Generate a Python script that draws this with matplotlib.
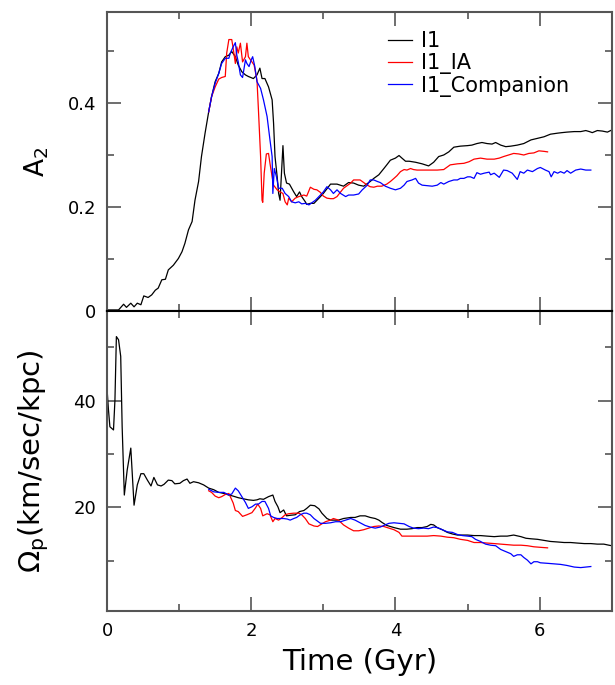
import matplotlib
matplotlib.use("Agg")
import matplotlib.pyplot as plt
from matplotlib.ticker import MultipleLocator, FuncFormatter

plt.rcParams['mathtext.default'] = 'regular'

# ---- A2 (bar strength) vs time ----
t_a2_i1 = [0.00, 0.16, 0.23, 0.27, 0.33, 0.375, 0.42, 0.47, 0.51, 0.57, 0.62, 0.67, 0.71, 0.76,
           0.81, 0.85, 0.92, 0.99, 1.04, 1.08, 1.13, 1.18, 1.22, 1.27, 1.31, 1.36, 1.41, 1.45,
           1.50, 1.55, 1.59, 1.64, 1.69, 1.73, 1.78, 1.82, 1.87, 1.92, 1.96, 2.03, 2.08, 2.12,
           2.15, 2.19, 2.24, 2.29, 2.31, 2.33, 2.36, 2.38, 2.40, 2.44, 2.46, 2.49, 2.53, 2.59,
           2.63, 2.67, 2.70, 2.75, 2.77, 2.82, 2.87, 2.94, 3.00, 3.10, 3.19, 3.28, 3.35, 3.42,
           3.49, 3.56, 3.65, 3.70, 3.77, 3.84, 3.88, 3.93, 4.00, 4.05, 4.09, 4.14, 4.19, 4.28,
           4.37, 4.46, 4.53, 4.60, 4.67, 4.74, 4.81, 4.90, 5.00, 5.06, 5.13, 5.20, 5.27, 5.34,
           5.39, 5.46, 5.53, 5.60, 5.69, 5.78, 5.88, 5.97, 6.06, 6.15, 6.25, 6.31, 6.38, 6.48,
           6.57, 6.64, 6.69, 6.73, 6.80, 6.87, 6.94, 7.00]
a2_i1 = [0.002, 0.002, 0.013, 0.007, 0.015, 0.008, 0.015, 0.012, 0.029, 0.026, 0.031, 0.040, 0.044, 0.060,
         0.061, 0.079, 0.088, 0.101, 0.114, 0.130, 0.156, 0.172, 0.213, 0.249, 0.297, 0.342, 0.383, 0.412,
         0.441, 0.457, 0.479, 0.489, 0.492, 0.499, 0.489, 0.473, 0.460, 0.454, 0.451, 0.447, 0.454, 0.467,
         0.447, 0.447, 0.431, 0.406, 0.361, 0.297, 0.258, 0.226, 0.213, 0.318, 0.265, 0.246, 0.244, 0.229,
         0.220, 0.229, 0.220, 0.210, 0.205, 0.207, 0.207, 0.217, 0.226, 0.244, 0.244, 0.240, 0.247, 0.246,
         0.242, 0.240, 0.249, 0.255, 0.262, 0.274, 0.281, 0.290, 0.294, 0.299, 0.294, 0.288, 0.288, 0.286,
         0.283, 0.279, 0.286, 0.297, 0.300, 0.306, 0.315, 0.317, 0.318, 0.319, 0.322, 0.324, 0.322, 0.321,
         0.324, 0.319, 0.316, 0.317, 0.319, 0.322, 0.329, 0.332, 0.335, 0.340, 0.342, 0.343, 0.344, 0.345,
         0.345, 0.347, 0.345, 0.343, 0.347, 0.346, 0.344, 0.348]

t_a2_ia = [1.41, 1.45, 1.50, 1.55, 1.59, 1.64, 1.66, 1.69, 1.73, 1.75, 1.78, 1.80, 1.82, 1.85, 1.88,
           1.92, 1.94, 1.96, 2.01, 2.04, 2.08, 2.10, 2.13, 2.15, 2.16, 2.18, 2.21, 2.24, 2.26, 2.29,
           2.31, 2.36, 2.40, 2.44, 2.47, 2.50, 2.52, 2.56, 2.61, 2.66, 2.73, 2.77, 2.82, 2.87, 2.91,
           2.96, 3.00, 3.05, 3.10, 3.14, 3.19, 3.24, 3.28, 3.33, 3.38, 3.42, 3.47, 3.51, 3.56, 3.61,
           3.65, 3.70, 3.75, 3.81, 3.88, 3.93, 3.98, 4.02, 4.07, 4.12, 4.16, 4.21, 4.25, 4.30, 4.39,
           4.49, 4.58, 4.67, 4.76, 4.86, 4.95, 5.02, 5.09, 5.18, 5.27, 5.37, 5.44, 5.50, 5.57, 5.64,
           5.71, 5.78, 5.85, 5.92, 5.99, 6.06, 6.11]
a2_ia = [0.383, 0.412, 0.431, 0.446, 0.449, 0.451, 0.496, 0.522, 0.522, 0.505, 0.476, 0.508, 0.496, 0.515, 0.479,
         0.489, 0.515, 0.489, 0.479, 0.473, 0.444, 0.387, 0.297, 0.213, 0.209, 0.265, 0.302, 0.303, 0.284, 0.258,
         0.242, 0.233, 0.229, 0.226, 0.210, 0.204, 0.217, 0.210, 0.217, 0.220, 0.223, 0.221, 0.238, 0.234, 0.233,
         0.228, 0.221, 0.217, 0.216, 0.216, 0.220, 0.229, 0.236, 0.241, 0.246, 0.252, 0.252, 0.252, 0.247, 0.242,
         0.239, 0.238, 0.240, 0.240, 0.244, 0.249, 0.255, 0.260, 0.268, 0.272, 0.271, 0.274, 0.272, 0.271, 0.271,
         0.271, 0.271, 0.272, 0.281, 0.283, 0.284, 0.287, 0.292, 0.294, 0.292, 0.292, 0.294, 0.297, 0.300, 0.303,
         0.302, 0.300, 0.303, 0.304, 0.308, 0.307, 0.306]

t_a2_comp = [1.41, 1.45, 1.50, 1.55, 1.59, 1.64, 1.69, 1.71, 1.75, 1.78, 1.80, 1.82, 1.85, 1.88, 1.92,
             1.94, 1.97, 2.00, 2.02, 2.05, 2.08, 2.13, 2.17, 2.22, 2.26, 2.29, 2.30, 2.32, 2.35, 2.38,
             2.43, 2.47, 2.52, 2.56, 2.61, 2.66, 2.70, 2.75, 2.80, 2.84, 2.89, 2.96, 3.00, 3.05, 3.10,
             3.14, 3.19, 3.24, 3.31, 3.35, 3.42, 3.49, 3.54, 3.61, 3.65, 3.70, 3.75, 3.79, 3.86, 3.93,
             4.00, 4.07, 4.12, 4.16, 4.23, 4.28, 4.32, 4.37, 4.44, 4.51, 4.58, 4.63, 4.67, 4.74, 4.81,
             4.86, 4.90, 4.95, 5.00, 5.04, 5.09, 5.13, 5.18, 5.23, 5.30, 5.32, 5.37, 5.44, 5.50, 5.55,
             5.62, 5.69, 5.73, 5.78, 5.83, 5.90, 5.97, 6.01, 6.08, 6.13, 6.16, 6.20, 6.25, 6.29, 6.34,
             6.38, 6.43, 6.50, 6.57, 6.64, 6.71]
a2_comp = [0.383, 0.412, 0.438, 0.457, 0.476, 0.486, 0.486, 0.496, 0.508, 0.516, 0.492, 0.479, 0.454, 0.449, 0.483,
           0.476, 0.470, 0.483, 0.489, 0.470, 0.441, 0.428, 0.406, 0.374, 0.329, 0.297, 0.226, 0.274, 0.258, 0.236,
           0.236, 0.226, 0.220, 0.210, 0.208, 0.210, 0.206, 0.207, 0.204, 0.208, 0.213, 0.223, 0.229, 0.239, 0.233,
           0.226, 0.233, 0.226, 0.220, 0.223, 0.223, 0.225, 0.233, 0.242, 0.252, 0.252, 0.249, 0.247, 0.240, 0.236,
           0.233, 0.236, 0.242, 0.249, 0.252, 0.255, 0.246, 0.242, 0.241, 0.240, 0.242, 0.247, 0.244, 0.249, 0.252,
           0.252, 0.255, 0.255, 0.258, 0.258, 0.255, 0.266, 0.263, 0.265, 0.267, 0.262, 0.265, 0.257, 0.271, 0.270,
           0.265, 0.253, 0.268, 0.265, 0.271, 0.268, 0.274, 0.276, 0.271, 0.268, 0.258, 0.268, 0.265, 0.268, 0.265,
           0.270, 0.265, 0.271, 0.273, 0.271, 0.271]

# ---- pattern speed vs time ----
t_om_i1 = [0.00, 0.02, 0.04, 0.09, 0.11, 0.13, 0.16, 0.19, 0.21, 0.24, 0.28, 0.33, 0.375, 0.42, 0.47,
           0.51, 0.56, 0.61, 0.65, 0.70, 0.75, 0.79, 0.85, 0.90, 0.94, 1.01, 1.06, 1.11, 1.15, 1.20,
           1.27, 1.34, 1.41, 1.48, 1.55, 1.62, 1.69, 1.75, 1.82, 1.89, 1.96, 2.03, 2.08, 2.12, 2.17,
           2.24, 2.30, 2.33, 2.37, 2.40, 2.45, 2.49, 2.54, 2.61, 2.67, 2.73, 2.77, 2.82, 2.88, 2.94,
           2.98, 3.05, 3.10, 3.14, 3.21, 3.28, 3.38, 3.44, 3.51, 3.58, 3.65, 3.72, 3.77, 3.81, 3.88,
           3.98, 4.07, 4.16, 4.23, 4.30, 4.37, 4.44, 4.49, 4.53, 4.58, 4.65, 4.72, 4.79, 4.86, 4.93,
           5.00, 5.09, 5.18, 5.27, 5.37, 5.46, 5.55, 5.64, 5.74, 5.81, 5.88, 5.97, 6.06, 6.15, 6.25,
           6.34, 6.43, 6.52, 6.62, 6.71, 6.80, 6.89, 6.96, 7.00]
om_i1 = [42.3, 38.3, 35.1, 34.5, 40.1, 52.0, 51.4, 48.3, 35.1, 22.3, 27.0, 31.1, 20.4, 24.2, 26.3,
         26.3, 25.1, 24.0, 25.6, 24.2, 24.0, 24.3, 25.1, 25.0, 24.4, 24.5, 25.0, 25.3, 24.5, 24.8,
         24.6, 24.2, 23.6, 23.3, 22.8, 22.6, 22.3, 22.1, 21.8, 21.6, 21.4, 21.3, 21.4, 21.6, 21.5,
         22.0, 22.3, 21.1, 20.1, 19.0, 19.5, 18.4, 18.5, 18.6, 19.2, 19.4, 19.8, 20.4, 20.3, 19.7,
         18.9, 17.9, 17.6, 17.6, 17.6, 17.9, 18.1, 18.1, 18.4, 18.4, 18.1, 17.9, 17.6, 17.2, 16.6,
         16.2, 15.9, 15.9, 16.0, 16.2, 16.2, 16.4, 16.8, 16.7, 16.2, 15.8, 15.3, 15.0, 14.8, 14.8,
         14.8, 14.7, 14.7, 14.6, 14.5, 14.6, 14.6, 14.8, 14.5, 14.2, 14.1, 14.0, 13.8, 13.6, 13.5,
         13.4, 13.4, 13.3, 13.2, 13.2, 13.1, 13.1, 12.9, 12.8]

t_om_ia = [1.41, 1.45, 1.50, 1.55, 1.59, 1.64, 1.69, 1.71, 1.75, 1.78, 1.82, 1.88, 1.94, 2.01, 2.06,
           2.09, 2.13, 2.16, 2.22, 2.26, 2.30, 2.33, 2.38, 2.43, 2.47, 2.52, 2.59, 2.66, 2.70, 2.75,
           2.80, 2.87, 2.92, 2.98, 3.03, 3.10, 3.14, 3.21, 3.28, 3.35, 3.42, 3.49, 3.56, 3.63, 3.70,
           3.77, 3.84, 3.91, 3.98, 4.05, 4.09, 4.16, 4.25, 4.35, 4.44, 4.53, 4.63, 4.72, 4.81, 4.90,
           5.00, 5.09, 5.18, 5.27, 5.37, 5.46, 5.55, 5.64, 5.74, 5.83, 5.92, 6.01, 6.11]
om_ia = [23.1, 22.8, 22.1, 21.8, 22.0, 22.4, 22.6, 22.0, 20.8, 19.4, 19.2, 18.3, 18.6, 19.0, 19.9,
         20.6, 19.8, 18.4, 18.8, 18.6, 17.3, 17.9, 17.6, 18.1, 18.6, 18.8, 18.9, 18.9, 18.6, 17.9,
         16.9, 16.5, 16.4, 16.9, 17.3, 17.6, 17.9, 17.6, 16.7, 16.1, 15.6, 15.6, 15.8, 16.1, 16.4,
         16.5, 16.4, 16.1, 15.8, 15.3, 14.6, 14.6, 14.6, 14.6, 14.6, 14.7, 14.6, 14.4, 14.3, 14.0,
         13.8, 13.4, 13.4, 13.3, 13.2, 13.1, 13.0, 12.9, 12.9, 12.8, 12.6, 12.5, 12.4]

t_om_comp = [1.41, 1.48, 1.55, 1.62, 1.69, 1.73, 1.78, 1.82, 1.87, 1.92, 1.96, 2.01, 2.06, 2.10, 2.15,
             2.19, 2.24, 2.27, 2.31, 2.36, 2.40, 2.45, 2.50, 2.54, 2.59, 2.63, 2.68, 2.73, 2.77, 2.82,
             2.87, 2.91, 2.96, 3.03, 3.10, 3.17, 3.24, 3.31, 3.38, 3.44, 3.51, 3.58, 3.65, 3.72, 3.79,
             3.84, 3.91, 3.98, 4.05, 4.12, 4.19, 4.25, 4.32, 4.39, 4.46, 4.53, 4.58, 4.65, 4.72, 4.79,
             4.86, 4.93, 5.00, 5.06, 5.11, 5.18, 5.25, 5.32, 5.39, 5.46, 5.53, 5.60, 5.64, 5.69, 5.74,
             5.78, 5.83, 5.88, 5.92, 5.97, 6.01, 6.11, 6.20, 6.29, 6.38, 6.48, 6.57, 6.64, 6.71]
om_comp = [23.4, 22.9, 22.8, 22.8, 22.3, 22.5, 23.6, 23.1, 22.0, 20.9, 19.8, 20.1, 20.6, 20.6, 21.1,
           21.1, 19.8, 18.4, 18.1, 17.9, 17.9, 17.9, 17.8, 17.6, 17.9, 18.1, 18.6, 18.9, 18.9, 18.6,
           17.9, 17.5, 17.0, 17.0, 17.1, 17.3, 17.3, 17.6, 17.9, 17.6, 17.1, 16.6, 16.3, 16.1, 16.3,
           16.6, 17.0, 17.1, 17.0, 16.9, 16.4, 16.1, 16.0, 16.1, 16.0, 16.3, 16.2, 15.8, 15.4, 15.3,
           14.9, 14.7, 14.6, 14.5, 14.0, 13.6, 13.1, 12.9, 12.8, 12.1, 11.7, 11.3, 10.8, 11.1, 11.1,
           10.6, 10.1, 9.4, 9.8, 9.8, 9.6, 9.5, 9.4, 9.3, 9.1, 8.8, 8.7, 8.8, 8.9]

labels = ['I1', 'I1_IA', 'I1_Companion']
colors = ['black', 'red', 'blue']

fig = plt.figure(figsize=(6.15, 6.85), dpi=100)
ax1 = fig.add_axes([0.174, 0.546, 0.8207, 0.4365])
ax2 = fig.add_axes([0.174, 0.108, 0.8207, 0.438])

ax1.plot(t_a2_i1, a2_i1, color=colors[0], lw=0.9, label=labels[0])
ax1.plot(t_a2_ia, a2_ia, color=colors[1], lw=0.9, label=labels[1])
ax1.plot(t_a2_comp, a2_comp, color=colors[2], lw=0.9, label=labels[2])

ax2.plot(t_om_i1, om_i1, color=colors[0], lw=0.9)
ax2.plot(t_om_ia, om_ia, color=colors[1], lw=0.9)
ax2.plot(t_om_comp, om_comp, color=colors[2], lw=0.9)

ax1.set_xlim(0, 7)
ax1.set_ylim(0, 0.575)
ax2.set_xlim(0, 7)
ax2.set_ylim(0.56, 56.8)

ax1.yaxis.set_major_locator(MultipleLocator(0.2))
ax1.yaxis.set_minor_locator(MultipleLocator(0.1))
ax1.yaxis.set_major_formatter(FuncFormatter(lambda v, p: '0' if abs(v) < 1e-9 else '%.1f' % v))
ax2.yaxis.set_major_locator(MultipleLocator(20))
ax2.yaxis.set_minor_locator(MultipleLocator(10))

for ax in (ax1, ax2):
    ax.xaxis.set_major_locator(MultipleLocator(2))
    ax.xaxis.set_minor_locator(MultipleLocator(1))
    ax.tick_params(which='both', direction='in', top=True, right=True,
                   color='#555555', width=1.2, labelsize=13, pad=8)
    ax.tick_params(which='major', length=10)
    ax.tick_params(which='minor', length=5)
    for s in ax.spines.values():
        s.set_color('#555555')
        s.set_linewidth(1.5)

ax1.spines['bottom'].set_color('black')
ax2.spines['top'].set_color('black')
ax1.tick_params(labelbottom=False)

ax1.set_ylabel(r'A$_2$', fontsize=19)
ax2.set_ylabel(r'$\Omega_p$(km/sec/kpc)', fontsize=21)
ax1.yaxis.set_label_coords(-0.11, 0.5)
ax2.yaxis.set_label_coords(-0.11, 0.5)
ax2.set_xlabel('Time (Gyr)', fontsize=21, labelpad=6)

ax1.legend(loc='upper left', bbox_to_anchor=(0.556, 0.935), frameon=False,
           fontsize=15, handlelength=1.15, handletextpad=0.45,
           labelspacing=0.08, borderpad=0, borderaxespad=0)

plt.savefig('out.png', dpi=100)
